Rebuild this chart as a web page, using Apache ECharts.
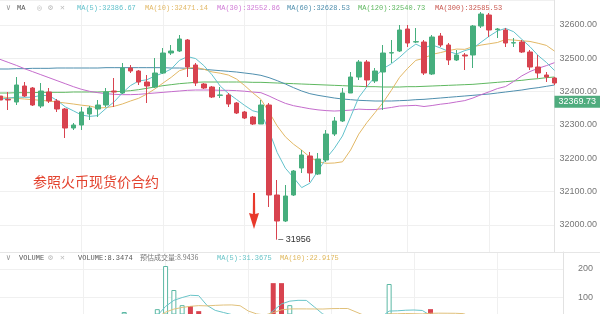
<!DOCTYPE html>
<html><head><meta charset="utf-8">
<script src="https://cdn.jsdelivr.net/npm/echarts@6/dist/echarts.min.js"></script>
<style>html,body{margin:0;padding:0;background:#fff}#c{width:600px;height:314px}</style>
</head><body><div id="c"></div>
<script>
// ---- data ----
const opens  = [32387,32377,32369,32417,32411,32357,32399,32372,32348,32291,32300,32333,32348,32360,32402,32396,32471,32462,32429,32414,32456,32516,32522,32555,32480,32423,32414,32389,32390,32366,32339,32324,32303,32360,32090,32012,32090,32171,32207,32153,32195,32273,32312,32396,32444,32489,32432,32459,32516,32522,32588,32549,32549,32453,32567,32540,32495,32510,32510,32597,32630,32586,32585,32546,32549,32519,32474,32450,32441];
const closes = [32375,32375,32420,32387,32360,32402,32372,32348,32291,32300,32339,32351,32360,32399,32399,32471,32462,32429,32417,32456,32516,32522,32558,32474,32426,32411,32384,32390,32363,32336,32321,32303,32360,32090,32012,32087,32162,32210,32156,32198,32273,32312,32396,32444,32489,32435,32462,32516,32517,32585,32546,32550,32456,32564,32540,32495,32510,32507,32597,32633,32585,32588,32546,32547,32519,32474,32456,32444,32426];
const lows   = [32372,32345,32360,32384,32357,32351,32366,32339,32261,32285,32285,32315,32324,32354,32354,32393,32456,32420,32366,32411,32453,32510,32519,32444,32417,32408,32381,32381,32354,32333,32318,32300,32303,32054,31956,32009,32087,32156,32129,32150,32189,32267,32309,32396,32435,32414,32426,32345,32486,32519,32534,32546,32450,32450,32534,32480,32492,32465,32471,32591,32564,32561,32534,32534,32516,32465,32441,32429,32420];
const highs  = [32393,32399,32444,32429,32414,32426,32411,32378,32351,32306,32354,32357,32375,32411,32441,32486,32480,32465,32450,32501,32531,32540,32570,32558,32486,32426,32417,32414,32396,32369,32342,32327,32375,32366,32135,32120,32165,32225,32219,32216,32285,32324,32411,32459,32495,32495,32471,32540,32555,32600,32600,32591,32555,32570,32576,32546,32525,32516,32600,32639,32636,32591,32591,32561,32555,32525,32510,32459,32444];
const ma5   = [32378,32380,32384,32383,32383.4,32388.8,32388.2,32373.8,32354.6,32342.6,32330,32325.8,32328.2,32349.8,32369.6,32396,32418.2,32432,32435.6,32447,32456,32468,32493.8,32505.2,32499.2,32478.2,32450.6,32417,32394.8,32376.8,32358.8,32342.6,32336.6,32282,32217.2,32170.4,32142.2,32112.2,32125.4,32162.6,32199.8,32229.8,32267,32324.6,32382.8,32415.2,32445.2,32469.2,32483.8,32503,32525.2,32542.8,32530.8,32540.2,32531.2,32521,32513,32523.2,32529.8,32548.4,32566.4,32582,32589.8,32579.8,32557,32534.8,32508.4,32488,32463.8];
const ma10  = [32385,32382,32380,32378,32376,32374,32372,32369,32366,32363,32359.4,32357,32351,32352.2,32356.1,32363,32372,32380.1,32392.7,32408.3,32426,32443.1,32462.9,32470.4,32473.1,32467.1,32459.3,32455.4,32450,32438,32418.5,32396.6,32376.8,32338.4,32297,32264.6,32242.4,32224.4,32203.7,32189.9,32185.1,32186,32189.6,32225,32272.7,32307.5,32337.5,32368.1,32404.2,32442.9,32470.2,32494,32500,32512,32517.1,32523.1,32527.9,32527,32535,32539.8,32543.7,32547.5,32556.5,32554.8,32552.7,32550.6,32545.2,32538.9,32521.8];
const ma30  = [32497,32488,32479,32469,32460,32451,32442,32433,32424,32415,32407,32401,32397,32394,32392,32391,32391,32392,32394,32396,32398,32400,32402,32404,32405,32405,32405,32404,32404,32403.1,32401.3,32398.9,32396.9,32387,32375.4,32364.9,32357.9,32353.3,32348.8,32345.4,32343.2,32341.9,32343.1,32344.6,32347.6,32346.4,32346.4,32349.3,32352.6,32356.9,32357.9,32358.9,32355.5,32358.5,32362.3,32365.1,32369.3,32373.2,32381,32390.9,32399.7,32409.2,32415.4,32430.6,32447.5,32460.4,32470.2,32478,32487];
const ma60  = [32468,32468,32469,32469,32470,32470,32470,32471,32471,32471,32471,32471,32471,32472,32472,32472,32472,32472,32472,32472,32472,32471,32471,32470,32469,32467,32465,32463,32461,32459,32456,32453,32449,32442,32433,32423,32412,32402,32394,32389,32385,32381,32378,32376,32374,32373,32372,32372,32372,32373,32374,32376,32377,32379,32381,32383,32385,32387,32389,32391,32393,32396,32399,32402,32405,32409,32412,32416,32420];
const ma120 = [32396,32396,32397,32397,32397,32398,32398,32398,32398,32399,32399,32399,32399,32400,32400,32401,32403,32406,32410,32414,32418,32421,32424,32426,32428,32429,32429,32429,32429,32429,32429,32428,32428,32427,32426,32425,32424,32423,32422,32421,32420,32419,32418,32417,32416,32415,32415,32414,32414,32414,32415,32415,32416,32417,32418,32419,32420,32421,32422,32424,32426,32428,32430,32432,32434,32437,32439,32442,32444];
const volumes = [22,18,30,20,24,28,16,20,38,14,26,18,16,30,28,49,20,24,30,59,210,126,73,70,52,40,38,36,34,30,24,26,36,150,150,73,40,35,32,28,38,30,36,30,28,26,30,147,35,38,30,22,59,34,26,24,18,20,36,30,26,16,22,14,18,24,20,16,8];
const volMa5  = [24,22,22,22,22.8,24,23.6,21.6,25.2,23.2,22.8,23.2,22.4,20.8,23.6,28.2,28.6,30.2,30.2,36.4,68.6,89.8,99.6,107.6,106.2,72.2,54.6,47.2,40,35.6,32.4,30,30,53.2,77.2,87,89.8,89.6,66,41.6,34.6,32.6,32.8,32.4,32.4,30,30,52.2,53.2,55.2,56,54.4,36.8,36.6,34.2,33,32.2,24.4,24.8,25.6,26,25.6,26,21.6,19.2,18.8,19.6,18.4,17.2];
const volMa10 = [24,24,24,24,24,24,24,24,24,23,23.4,23.4,22,23,23.4,25.5,25.9,26.3,25.5,30,48.4,59.2,64.9,68.9,71.3,70.4,72.2,73.4,73.8,70.9,52.3,42.3,38.6,46.6,56.4,59.7,59.9,59.8,59.6,59.4,60.8,61.2,61.2,49.2,37,32.3,31.3,42.5,42.8,43.8,43,42.2,44.5,44.9,44.7,44.5,43.3,30.6,30.7,29.9,29.5,28.9,25.2,23.2,22.4,22.4,22.6,22.2,19.4];
const priceTicks = [32000,32100,32200,32300,32400,32500,32600];
const volTicks = [100,200];
const lastPrice = 32369.73;
const categories = closes.map((_, i) => 'K' + (i + 1));

// ---- styles ----
const UP = '#46ae7d', DOWN = '#d8434f';
const C5 = '#63c2cc', C10 = '#e2b866', C30 = '#c46ccc', C60 = '#4f8fae', C120 = '#5fb860';

const candleData = opens.map((o, i) => [o, closes[i], lows[i], highs[i]]);
let lowIdx = 0; lows.forEach((v, i) => { if (v < lows[lowIdx]) lowIdx = i; });

const volData = volumes.map((v, i) => {
  const up = closes[i] > opens[i] || (closes[i] === opens[i] && i > 0 && closes[i] >= closes[i-1]);
  return {value: v, itemStyle: up ? {color: '#fff', borderColor: '#5bb8a4', borderWidth: 1} : {color: DOWN}};
});

const line = (name, data, color, xi, yi) => ({
  name, type: 'line', data, xAxisIndex: xi, yAxisIndex: yi, symbol: 'none', smooth: false, clip: true,
  lineStyle: {width: 1, color}, itemStyle: {color}, silent: true, z: 3
});

const chart = echarts.init(document.getElementById('c'), null, {renderer: 'canvas'});
const mono = '"Liberation Mono", "DejaVu Sans Mono", monospace';
const txt = (x, y, text, fill, size) => ({type: 'text', left: x, top: y, style: {text, fill, font: (size || 7) + 'px ' + mono}, z: 20});

chart.setOption({
  animation: false,
  backgroundColor: '#fff',
  grid: [
    {left: 0, top: 0, width: 563, height: 252},
    {left: 0, top: 252, width: 563, height: 62}
  ],
  xAxis: [0, 1].map(g => ({
    type: 'category', data: categories, gridIndex: g, boundaryGap: false,
    axisLine: {show: false}, axisTick: {show: false}, axisLabel: {show: false},
    splitLine: {show: true, interval: (idx) => idx % 10 === 0 && idx > 0, lineStyle: {color: '#f0f0f0', width: 1}}
  })),
  yAxis: [
    {type: 'value', gridIndex: 0, position: 'right', scale: true, min: 31919, max: 32675, splitNumber: 7,
     axisLine: {show: true, lineStyle: {color: '#e2e2e2'}}, axisTick: {show: false},
     splitLine: {show: true, lineStyle: {color: '#f0f0f0'}},
     axisLabel: {showMinLabel: false, showMaxLabel: false, color: '#777', fontSize: 9, margin: 5,
       fontFamily: 'Liberation Sans',
       formatter: v => priceTicks.includes(Math.round(v)) ? v.toFixed(2) : ''}},
    {type: 'value', gridIndex: 1, position: 'right', scale: true, min: 42, max: 259, splitNumber: 2,
     axisLine: {show: true, lineStyle: {color: '#e2e2e2'}}, axisTick: {show: false},
     splitLine: {show: true, lineStyle: {color: '#f0f0f0'}},
     axisLabel: {showMinLabel: false, showMaxLabel: false, color: '#777', fontSize: 9, margin: 15,
       fontFamily: 'Liberation Sans',
       formatter: v => volTicks.includes(Math.round(v)) ? String(Math.round(v)) : ''}}
  ],
  series: [
    line('MA120', ma120, C120, 0, 0),
    line('MA60', ma60, C60, 0, 0),
    line('MA30', ma30, C30, 0, 0),
    line('MA10', ma10, C10, 0, 0),
    line('MA5', ma5, C5, 0, 0),
    {
      name: 'K', type: 'candlestick', data: candleData, xAxisIndex: 0, yAxisIndex: 0, barWidth: 5, z: 5,
      itemStyle: {color: UP, color0: DOWN, borderColor: UP, borderColor0: DOWN, borderWidth: 1},
      markLine: {
        silent: true, symbol: 'none', animation: false,
        lineStyle: {color: 'rgba(0,0,0,0)', width: 1, type: 'solid'},
        label: {show: true, position: 'end', distance: 0, formatter: lastPrice.toFixed(2),
          backgroundColor: '#4fac7e', color: '#fff', fontSize: 9, padding: [2, 4, 1, 4], fontFamily: 'Liberation Sans'},
        data: [{yAxis: lastPrice}]
      },
      markPoint: {
        silent: true, symbol: 'rect', symbolSize: [0, 0], animation: false,
        label: {show: true, position: 'right', distance: 1, color: '#333', fontSize: 9, fontFamily: 'Liberation Sans',
          formatter: p => '\u2013 ' + p.value},
        data: [{coord: [lowIdx, lows[lowIdx]], value: lows[lowIdx]}]
      }
    },
    {name: 'VOL', type: 'bar', data: volData, xAxisIndex: 1, yAxisIndex: 1, barWidth: 5, z: 2, clip: true},
    line('VMA5', volMa5, '#69c4c8', 1, 1),
    line('VMA10', volMa10, '#e0c07a', 1, 1)
  ],
  graphic: [
    {type: 'line', shape: {x1: 0, y1: 252.5, x2: 600, y2: 252.5}, style: {stroke: '#e6e6e6', lineWidth: 1}, z: 10},
    // top legend
    txt(6, 4, '\u2228', '#999', 8), txt(17, 5, 'MA', '#555'),
    txt(37, 4, '\u25CE', '#bbb', 8), txt(48, 4, '\u2699', '#bbb', 8), txt(60, 4, '\u2715', '#bbb', 8),
    txt(77, 5, 'MA(5):32386.67', C5), txt(145, 5, 'MA(10):32471.14', C10),
    txt(217, 5, 'MA(30):32552.86', '#d07ad6'), txt(287, 5, 'MA(60):32628.53', C60),
    txt(358, 5, 'MA(120):32540.73', C120), txt(435, 5, 'MA(300):32585.53', '#c9574f'),
    // volume legend
    txt(6, 254, '\u2228', '#999', 8), txt(19, 255, 'VOLUME', '#555'),
    txt(48, 254, '\u2699', '#bbb', 8), txt(60, 254, '\u2715', '#bbb', 8),
    txt(78, 255, 'VOLUME:8.3474', '#555'),
    {type: 'text', left: 140, top: 254, style: {text: '预估成交量:8.9436', fill: '#777', font: '7px "Noto Sans CJK SC", ' + mono}, z: 20},
    txt(217, 255, 'MA(5):31.3675', '#69c4c8'), txt(280, 255, 'MA(10):22.9175', '#e0b85c'),
    // annotation
    {type: 'text', left: 33, top: 175, style: {text: '参照火币现货价合约', fill: '#e3432f', font: '14px "Noto Sans CJK SC"'}, z: 20},
    {type: 'polygon', shape: {points: [[253, 193], [255, 193], [255.2, 214], [259, 213], [254, 229], [249, 213], [252.8, 214]]},
     style: {fill: '#e8392b'}, z: 20}
  ]
});
</script></body></html>
